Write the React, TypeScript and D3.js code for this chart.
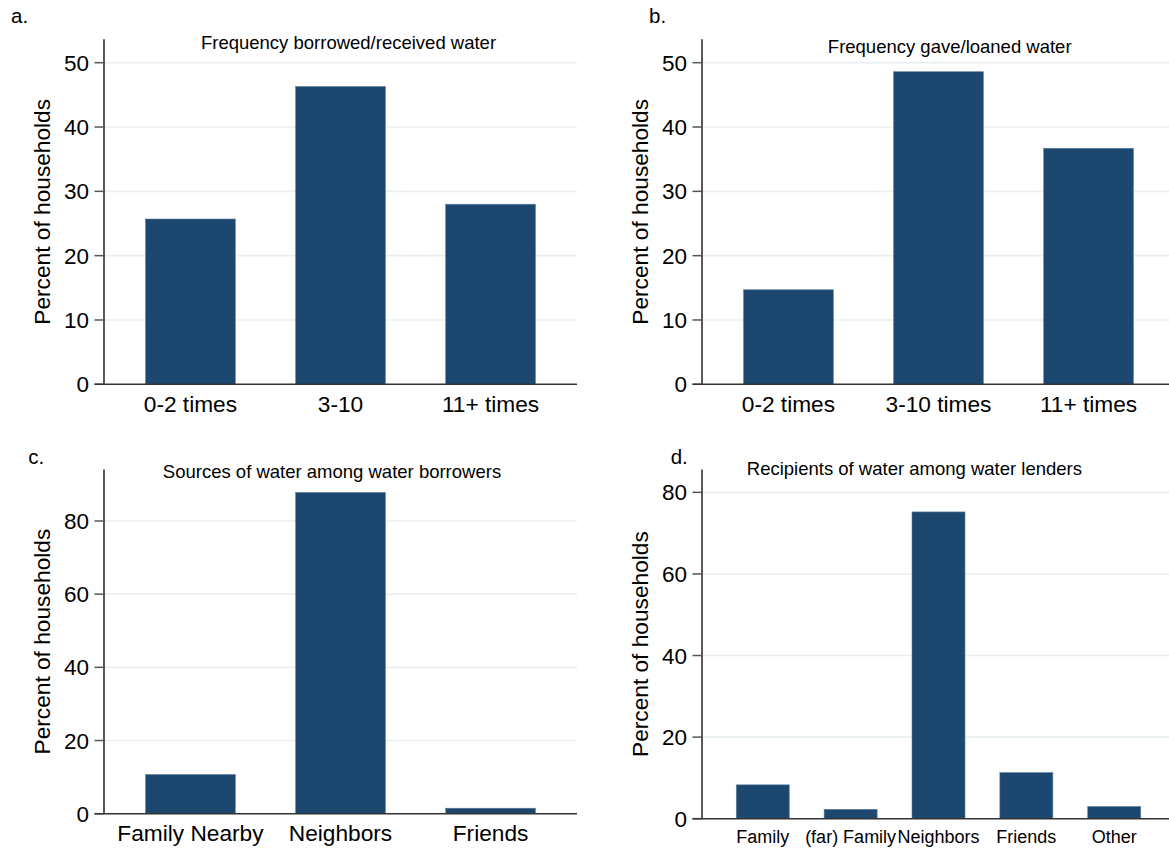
import React from "react";
import * as d3 from "d3";

// ---- Data ----
const catsA = ["0-2 times", "3-10", "11+ times"];
const valsA = [25.7, 46.3, 28.0];
const catsB = ["0-2 times", "3-10 times", "11+ times"];
const valsB = [14.7, 48.6, 36.7];
const catsC = ["Family Nearby", "Neighbors", "Friends"];
const valsC = [10.7, 87.8, 1.5];
const catsD = ["Family", "(far) Family", "Neighbors", "Friends", "Other"];
const valsD = [8.3, 2.3, 75.2, 11.3, 3.0];
const ticksAB = [0, 10, 20, 30, 40, 50];
const ticksCD = [0, 20, 40, 60, 80];
const titles = [
  "Frequency borrowed/received water",
  "Frequency gave/loaned water",
  "Sources of water among water borrowers",
  "Recipients of water among water lenders",
];
const panelLetters = ["a.", "b.", "c.", "d."];
const yLabel = "Percent of households";

// ---- Layout ----
const FONT = "'Liberation Sans', Arial, Helvetica, sans-serif";
const BAR = "#1c4870";
const GRID = "#e8eff1";

const panels = [
  { cats: catsA, vals: valsA, ticks: ticksAB, title: titles[0], letter: panelLetters[0],
    left: 104, right: 577, top: 39.3, zero: 384.3, yMax: 53.64, pi: 0.402, po: 0.277,
    titleX: 348.5, titleY: 49, letterX: 11, letterY: 22.7, xFont: 22.7, xLabOff: 27.4 },
  { cats: catsB, vals: valsB, ticks: ticksAB, title: titles[1], letter: panelLetters[1],
    left: 702, right: 1175, top: 39.3, zero: 384.3, yMax: 53.64, pi: 0.402, po: 0.277,
    titleX: 949.7, titleY: 53.3, letterX: 649, letterY: 22.7, xFont: 22.7, xLabOff: 27.4 },
  { cats: catsC, vals: valsC, ticks: ticksCD, title: titles[2], letter: panelLetters[2],
    left: 104, right: 577, top: 469.5, zero: 813.7, yMax: 94.07, pi: 0.402, po: 0.277,
    titleX: 332, titleY: 477.7, letterX: 28.3, letterY: 464, xFont: 22.7, xLabOff: 27.4 },
  { cats: catsD, vals: valsD, ticks: ticksCD, title: titles[3], letter: panelLetters[3],
    left: 702, right: 1175, top: 469.5, zero: 818.7, yMax: 85.6, pi: 0.397, po: 0.39,
    titleX: 914.4, titleY: 475, letterX: 670.7, letterY: 464, xFont: 18, xLabOff: 24 },
];

function Panel({ p }: { p: (typeof panels)[number] }) {
  const x = d3.scaleBand<string>().domain(p.cats).range([p.left, p.right]).paddingInner(p.pi).paddingOuter(p.po);
  const y = d3.scaleLinear().domain([0, p.yMax]).range([p.zero, p.top]);
  return (
    <g>
      {/* gridlines */}
      {p.ticks.filter((t) => t > 0).map((t) => (
        <line key={"g" + t} x1={p.left} x2={p.right} y1={y(t)} y2={y(t)} stroke={GRID} strokeWidth={1.6} />
      ))}
      {/* bars */}
      {p.cats.map((c, i) => (
        <rect key={c} x={x(c)} y={y(p.vals[i])} width={x.bandwidth()} height={y(0) - y(p.vals[i])}
          fill={BAR} stroke="#5f7d9c" strokeWidth={0.6} />
      ))}
      {/* y axis */}
      <line x1={p.left} x2={p.left} y1={p.top} y2={p.zero} stroke="#000" strokeWidth={1.3} />
      {p.ticks.map((t) => (
        <g key={"t" + t}>
          <line x1={p.left - 9.5} x2={p.left} y1={y(t)} y2={y(t)} stroke="#555" strokeWidth={1.5} />
          <text x={p.left - 15} y={y(t)} dy="0.36em" textAnchor="end" fontSize={22.5} fontFamily={FONT} fill="#000">
            {t}
          </text>
        </g>
      ))}
      {/* x axis baseline */}
      <line x1={p.left - 9.5} x2={p.right} y1={p.zero} y2={p.zero} stroke="#333" strokeWidth={1.4} />
      {p.cats.map((c) => (
        <text key={"x" + c} x={(x(c) as number) + x.bandwidth() / 2} y={p.zero + p.xLabOff} textAnchor="middle"
          fontSize={p.xFont} fontFamily={FONT} fill="#000">
          {c}
        </text>
      ))}
      {/* y label */}
      <text transform={`translate(${p.left - 54.5},${(p.top + p.zero) / 2}) rotate(-90)`} textAnchor="middle"
        fontSize={22.7} fontFamily={FONT} fill="#000">
        {yLabel}
      </text>
      {/* title */}
      <text x={p.titleX} y={p.titleY} textAnchor="middle" fontSize={18.5} fontFamily={FONT} fill="#000">
        {p.title}
      </text>
      {/* panel letter */}
      <text x={p.letterX} y={p.letterY} fontSize={20.5} fontFamily={FONT} fill="#000">
        {p.letter}
      </text>
    </g>
  );
}

export default function App() {
  return (
    <svg width={1169} height={851} style={{ position: "absolute", left: 0, top: 0, background: "#fff" }}>
      <rect x={0} y={0} width={1169} height={851} fill="#fff" />
      {panels.map((p, i) => (
        <Panel key={i} p={p} />
      ))}
    </svg>
  );
}
